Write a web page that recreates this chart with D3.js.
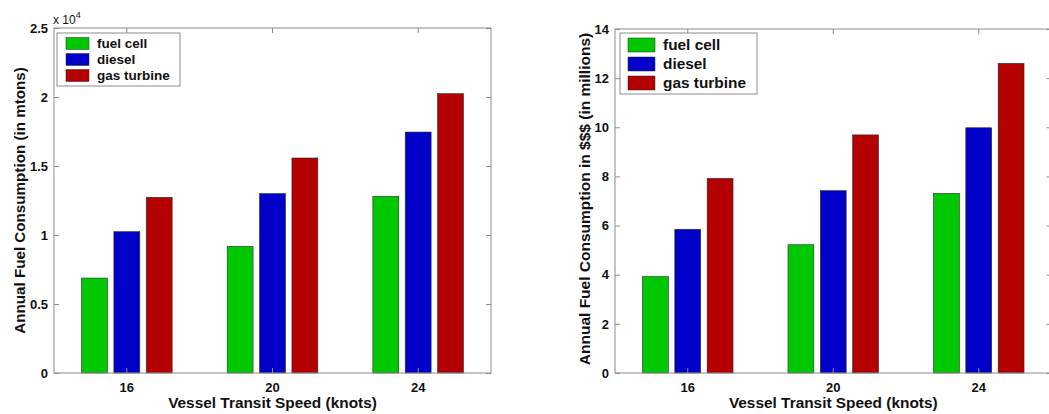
<!DOCTYPE html>
<html><head><meta charset="utf-8">
<script src="https://cdn.jsdelivr.net/npm/d3@7"></script>
<style>
html,body{margin:0;padding:0;background:#fff;}
svg{display:block;font-family:"Liberation Sans",Arial,Helvetica,sans-serif;font-weight:bold;}
</style></head>
<body><svg id="c" width="1049" height="414"></svg>
<script>
const categories = ["16", "20", "24"];
const seriesNames = ["fuel cell", "diesel", "gas turbine"];
const seriesColors = ["#00c800", "#0000c8", "#b40000"];
// Left panel: annual fuel consumption in mtons
const massFuelCell = [6880, 9180, 12800];
const massDiesel = [10240, 13000, 17460];
const massGasTurbine = [12730, 15580, 20240];
const massTicks = [0, 5000, 10000, 15000, 20000, 25000];
// Right panel: annual fuel consumption in $$$ (millions)
const costFuelCell = [3.92, 5.22, 7.31];
const costDiesel = [5.85, 7.42, 9.98];
const costGasTurbine = [7.92, 9.69, 12.6];
const costTicks = [0, 2, 4, 6, 8, 10, 12, 14];

const svg = d3.select("#c");

function panel(o) {
  const g = svg.append("g");
  const x = d3.scaleBand().domain(categories).range([o.x0, o.x1]).padding(0);
  const bw = x.bandwidth();
  const xs = d3.scaleBand().domain(seriesNames).range([-bw/3, bw/3]).paddingInner(0.2).paddingOuter(0.1);
  const y = d3.scaleLinear().domain(o.domain).range([o.y1, o.y0]);
  const series = [o.s1, o.s2, o.s3];

  // bars
  series.forEach((vals, si) => {
    g.selectAll(null).data(vals).enter().append("rect")
      .attr("x", (d, i) => x(categories[i]) + bw/2 + xs(seriesNames[si]))
      .attr("width", xs.bandwidth())
      .attr("y", d => y(d))
      .attr("height", d => y(0) - y(d))
      .attr("fill", seriesColors[si])
      .attr("stroke", "#2a2a2a").attr("stroke-width", 0.6);
  });

  // axes
  const axCol = "#8c8c8c";
  const yl = g.append("g").attr("transform", `translate(${o.x0},0)`)
    .call(d3.axisLeft(y).tickValues(o.ticks).tickSize(-5).tickPadding(6).tickFormat(o.fmt));
  const yr = g.append("g").attr("transform", `translate(${o.x1},0)`)
    .call(d3.axisRight(y).tickValues(o.ticks).tickSize(-5).tickFormat(""));
  const xb = g.append("g").attr("transform", `translate(0,${o.y1})`)
    .call(d3.axisBottom(x).tickSize(-5).tickPadding(10));
  const xt = g.append("g").attr("transform", `translate(0,${o.y0})`)
    .call(d3.axisTop(x).tickSize(-5).tickFormat(""));
  [yl, yr, xb, xt].forEach(a => {
    a.select(".domain").remove();
    a.selectAll(".tick line").attr("stroke", axCol);
    a.selectAll(".tick text").attr("fill", "#111").attr("font-size", 13)
      .attr("font-family", "Liberation Sans, Arial, sans-serif").attr("font-weight", "bold");
  });
  g.append("rect").attr("x", o.x0).attr("y", o.y0)
    .attr("width", o.x1 - o.x0).attr("height", o.y1 - o.y0)
    .attr("fill", "none").attr("stroke", axCol).attr("stroke-width", 1);

  // titles
  g.append("text").attr("x", (o.x0 + o.x1)/2).attr("y", 408)
    .attr("text-anchor", "middle").attr("font-size", 15.4).attr("fill", "#111")
    .text("Vessel Transit Speed (knots)");
  g.append("text").attr("transform", `translate(${o.ytx},${(o.y0+o.y1)/2 + o.ytdy}) rotate(-90)`)
    .attr("text-anchor", "middle").attr("font-size", o.ytSize).attr("fill", "#111")
    .text(o.ytitle);

  // legend
  const L = o.leg;
  const lg = g.append("g");
  lg.append("rect").attr("x", L.x).attr("y", L.y).attr("width", L.w).attr("height", L.h)
    .attr("fill", "#fff").attr("stroke", axCol).attr("stroke-width", 1);
  seriesNames.forEach((s, i) => {
    const cy = L.y + L.first + i * L.step;
    lg.append("rect").attr("x", L.sx).attr("y", cy - L.sh/2).attr("width", L.sw).attr("height", L.sh)
      .attr("fill", seriesColors[i]).attr("stroke", "#2a2a2a").attr("stroke-width", 0.5);
    lg.append("text").attr("x", L.tx).attr("y", cy).attr("dy", "0.35em")
      .attr("font-size", L.fs).attr("fill", "#111").text(s);
  });
  return g;
}

panel({
  x0: 54, x1: 491, y0: 28, y1: 373, domain: [0, 25000], ticks: massTicks,
  fmt: d => d3.format("~g")(d / 10000),
  s1: massFuelCell, s2: massDiesel, s3: massGasTurbine,
  ytitle: "Annual Fuel Consumption (in mtons)", ytx: 25, ytdy: 0, ytSize: 15.2,
  leg: {x: 57, y: 33, w: 123, h: 53, first: 10.5, step: 16, sx: 66, sw: 23, sh: 12, tx: 97, fs: 13.5}
});
panel({
  x0: 615, x1: 1051.5, y0: 29, y1: 373, domain: [0, 14], ticks: costTicks,
  fmt: d => d,
  s1: costFuelCell, s2: costDiesel, s3: costGasTurbine,
  ytitle: "Annual Fuel Consumption in $$$ (in millions)", ytx: 590, ytdy: -2, ytSize: 15.5,
  leg: {x: 620, y: 33, w: 137, h: 61, first: 12, step: 19, sx: 628, sw: 27, sh: 14, tx: 663, fs: 15.4}
});

// x 10^4 multiplier label on left panel
const m = svg.append("text").attr("x", 53).attr("y", 24).attr("font-size", 12).attr("fill", "#111")
  .attr("font-weight", "normal");
m.append("tspan").text("x 10");
m.append("tspan").attr("dy", -6).attr("font-size", 9).text("4");
</script></body></html>
